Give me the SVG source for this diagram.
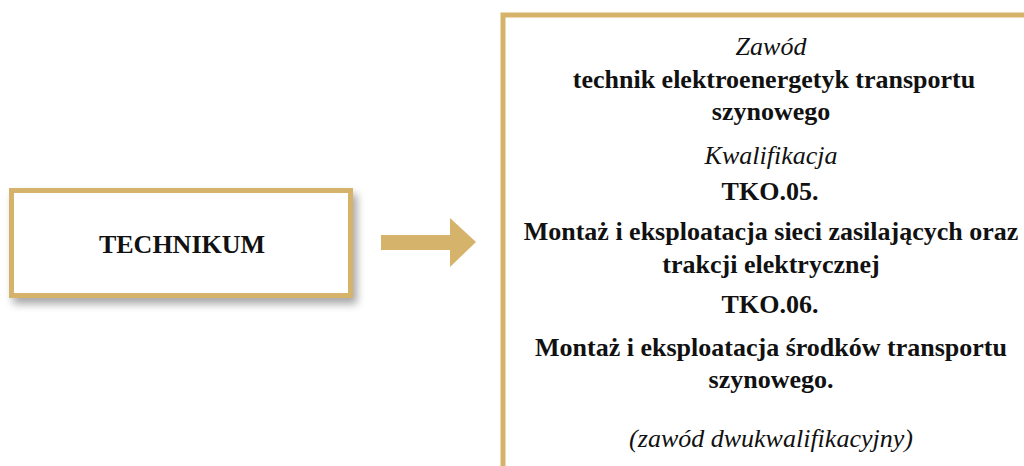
<svg xmlns="http://www.w3.org/2000/svg" width="1024" height="466" viewBox="0 0 1024 466">
<defs>
<filter id="sh" x="-10%" y="-20%" width="130%" height="150%">
<feGaussianBlur in="SourceAlpha" stdDeviation="4"/>
<feOffset dx="4" dy="6" result="o"/>
<feComponentTransfer><feFuncA type="linear" slope="0.35"/></feComponentTransfer>
<feMerge><feMergeNode/><feMergeNode in="SourceGraphic"/></feMerge>
</filter>
</defs>
<style>
.box{fill:#fff;stroke:#D6B36A;stroke-width:5}
.t{font-family:"Liberation Serif","DejaVu Serif",serif;fill:#111;text-anchor:middle}
.b{font-weight:bold;font-size:26px}
.i{font-style:italic;font-size:26px}
</style>
<rect width="1024" height="466" fill="#fff"/>
<g id="technikum">
<rect class="box" x="11.5" y="190.5" width="339" height="105" filter="url(#sh)"/>
<text class="t b" x="182" y="253">TECHNIKUM</text>
</g>
<g id="connectors">
<path d="M381 235 H450 V218 L476 242 L450 267 V250 H381 Z" fill="#D6B36A"/>
</g>
<g id="zawod">
<rect class="box" x="503" y="15" width="540" height="470"/>
<text class="t i" x="771" y="55">Zawód</text>
<text class="t b" x="774" y="88">technik elektroenergetyk transportu</text>
<text class="t b" x="771" y="120">szynowego</text>
<text class="t i" x="771" y="164">Kwalifikacja</text>
<text class="t b" x="770" y="200">TKO.05.</text>
<text class="t b" x="771" y="240">Montaż i eksploatacja sieci zasilających oraz</text>
<text class="t b" x="771" y="273">trakcji elektrycznej</text>
<text class="t b" x="770" y="313">TKO.06.</text>
<text class="t b" x="771" y="356">Montaż i eksploatacja środków transportu</text>
<text class="t b" x="771" y="388">szynowego.</text>
<text class="t i" x="771" y="447">(zawód dwukwalifikacyjny)</text>
</g>
</svg>
